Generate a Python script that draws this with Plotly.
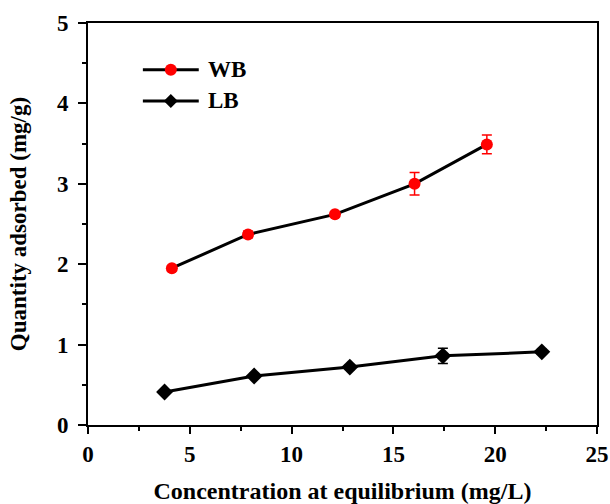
import plotly.graph_objects as go

wb_x = [4.12, 7.86, 12.13, 16.04, 19.59]
wb_y = [1.95, 2.37, 2.62, 3.00, 3.49]
wb_err = [0.03, 0.04, 0.03, 0.14, 0.116]

lb_x = [3.76, 8.16, 12.86, 17.43, 22.29]
lb_y = [0.41, 0.61, 0.72, 0.86, 0.91]
lb_err = [0.02, 0.03, 0.03, 0.094, 0.03]

series_names = ["WB", "LB"]

font = "Liberation Serif"

fig = go.Figure()
fig.add_trace(go.Scatter(
    x=wb_x, y=wb_y, name=series_names[0], mode="lines+markers",
    line=dict(color="black", width=3),
    marker=dict(symbol="circle", size=12, color="#ff0000"),
    error_y=dict(type="data", array=wb_err, color="#ff0000", thickness=1.5, width=5),
    showlegend=False,
))
fig.add_trace(go.Scatter(
    x=lb_x, y=lb_y, name=series_names[1], mode="lines+markers",
    line=dict(color="black", width=3),
    marker=dict(symbol="diamond", size=13, color="black"),
    error_y=dict(type="data", array=lb_err, color="black", thickness=1.5, width=5),
    showlegend=False,
))

axis_common = dict(
    showline=True, linecolor="black", linewidth=2, mirror=True,
    ticks="outside", tickwidth=1.5, tickcolor="black",
    showgrid=False, zeroline=False, automargin=False,
    tickfont=dict(family=font, size=23, color="black", weight="bold"),
)

fig.update_xaxes(
    range=[0, 25], tick0=0, dtick=5, ticklen=7, ticklabelstandoff=0,
    minor=dict(dtick=2.5, ticks="outside", ticklen=4, tickwidth=1.5, tickcolor="black"),
    title=dict(text="Concentration at equilibrium (mg/L)",
               font=dict(family=font, size=24, color="black", weight="bold"), standoff=26),
    **axis_common,
)
fig.update_yaxes(
    range=[0, 5], tick0=0, dtick=1, ticklen=8, ticklabelstandoff=5,
    minor=dict(dtick=0.5, ticks="outside", ticklen=4, tickwidth=1.5, tickcolor="black"),
    title=dict(text="Quantity adsorbed (mg/g)",
               font=dict(family=font, size=23, color="black", weight="bold"), standoff=24),
    **axis_common,
)

# custom legend (positions in paper coordinates)
leg_x0, leg_x1, leg_xm, leg_tx = 0.1078, 0.2176, 0.1627, 0.2314
leg_y = [0.8835, 0.8062]
shapes = []
annotations = []
for yy in leg_y:
    shapes.append(dict(type="line", xref="paper", yref="paper",
                       x0=leg_x0, x1=leg_x1, y0=yy, y1=yy,
                       line=dict(color="black", width=3)))
shapes.append(dict(type="circle", xref="paper", yref="paper",
                   xsizemode="pixel", ysizemode="pixel",
                   xanchor=leg_xm, yanchor=leg_y[0],
                   x0=-6, x1=6, y0=-6, y1=6,
                   fillcolor="#ff0000", line=dict(color="#ff0000", width=0)))
shapes.append(dict(type="path", xref="paper", yref="paper",
                   xsizemode="pixel", ysizemode="pixel",
                   xanchor=leg_xm, yanchor=leg_y[1],
                   path="M -7 0 L 0 7 L 7 0 L 0 -7 Z",
                   fillcolor="black", line=dict(color="black", width=0)))
for name, yy in zip(series_names, leg_y):
    annotations.append(dict(text=name, xref="paper", yref="paper",
                            x=leg_tx, y=yy, xanchor="left", yanchor="middle",
                            showarrow=False,
                            font=dict(family=font, size=23, color="black", weight="bold")))

fig.update_layout(
    width=610, height=504,
    margin=dict(l=88, r=13, t=23, b=79),
    paper_bgcolor="white", plot_bgcolor="white",
    shapes=shapes, annotations=annotations,
)

fig.write_html("out.html")
